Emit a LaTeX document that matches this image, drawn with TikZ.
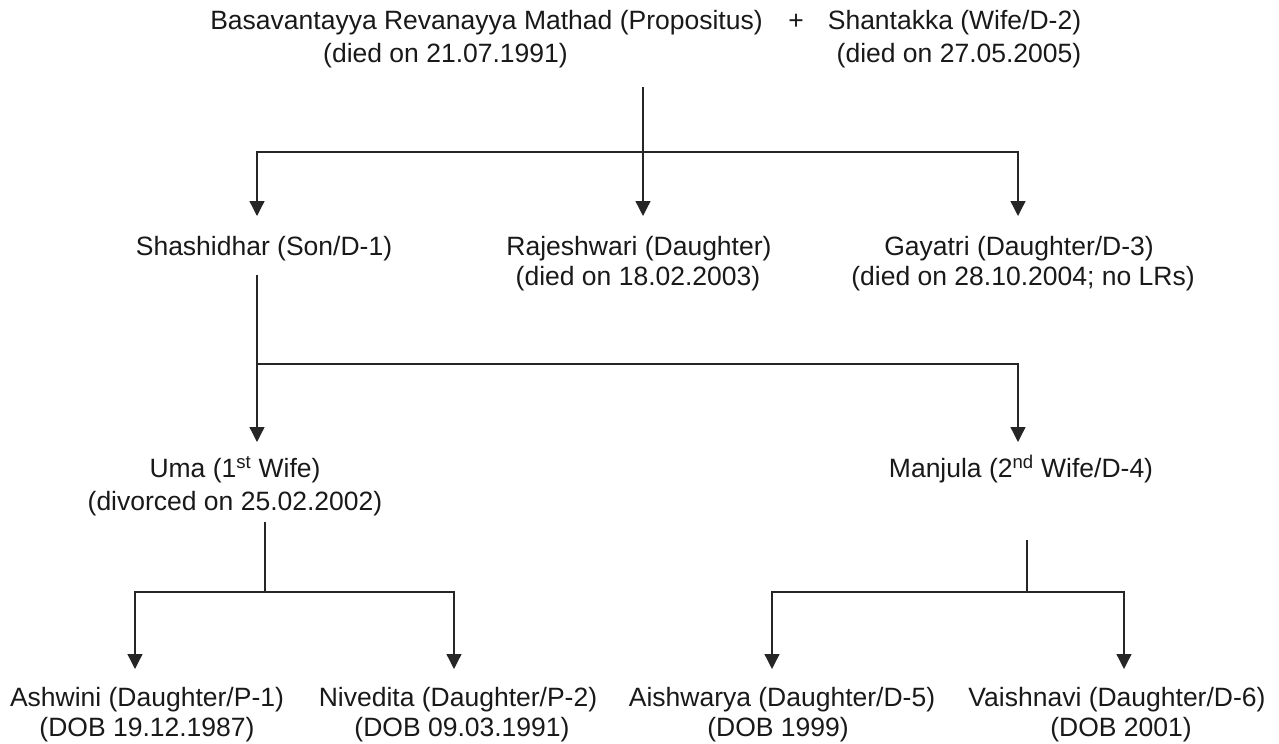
\documentclass[tikz,border=0pt]{standalone}
\usepackage{fontspec}
\setmainfont{Liberation Sans}
\usetikzlibrary{arrows.meta}
\begin{document}
\begin{tikzpicture}[x=1bp,y=-1bp,
  lbl/.style={inner sep=0pt, outer sep=0pt, anchor=base, font=\fontsize{26.5bp}{30bp}\selectfont, text=black!90},
  link/.style={draw=black!85, line width=1.3bp},
  arr/.style={link, -{Triangle[width=15bp,length=15bp]}}]
\useasboundingbox (0,0) rectangle (1279,744);

% top couple
\node[lbl] (prop)  at (486.5,30) {Basavantayya Revanayya Mathad (Propositus)};
\node[lbl] (plus)  at (796,30) {+};
\node[lbl] (wife)  at (954.5,30) {Shantakka (Wife/D-2)};
\node[lbl] (propd) at (445.5,63) {(died on 21.07.1991)};
\node[lbl] (wifed) at (959,63) {(died on 27.05.2005)};

% children
\node[lbl] (shash) at (264,255) {Shashidhar (Son/D-1)};
\node[lbl] (raj)   at (639,255) {Rajeshwari (Daughter)};
\node[lbl] (rajd)  at (638,285) {(died on 18.02.2003)};
\node[lbl] (gay)   at (1019,255) {Gayatri (Daughter/D-3)};
\node[lbl] (gayd)  at (1023,285) {(died on 28.10.2004; no LRs)};

% wives
\node[lbl] (uma)   at (235,477) {Uma (1\textsuperscript{st} Wife)};
\node[lbl] (umad)  at (235,510) {(divorced on 25.02.2002)};
\node[lbl] (manj)  at (1021,477) {Manjula (2\textsuperscript{nd} Wife/D-4)};

% grandchildren
\node[lbl] (ash)   at (147,706) {Ashwini (Daughter/P-1)};
\node[lbl] (ashd)  at (147,736) {(DOB 19.12.1987)};
\node[lbl] (niv)   at (458,706) {Nivedita (Daughter/P-2)};
\node[lbl] (nivd)  at (462,736) {(DOB 09.03.1991)};
\node[lbl] (aish)  at (782,706) {Aishwarya (Daughter/D-5)};
\node[lbl] (aishd) at (778,736) {(DOB 1999)};
\node[lbl] (vai)   at (1117,706) {Vaishnavi (Daughter/D-6)};
\node[lbl] (vaid)  at (1121,736) {(DOB 2001)};

% connector points
\coordinate (t0) at (643,87);
\coordinate (j1) at (643,152);
\coordinate (a1) at (257,216);
\coordinate (a2) at (643,216);
\coordinate (a3) at (1018,216);

\coordinate (s0) at (257,275);
\coordinate (j2) at (257,364);
\coordinate (a4) at (257,442);
\coordinate (a5) at (1018,442);

\coordinate (u0) at (265,522);
\coordinate (j3) at (265,592);
\coordinate (a6) at (135,669);
\coordinate (a7) at (454,669);

\coordinate (m0) at (1027,540);
\coordinate (j4) at (1027,592);
\coordinate (a8) at (772,669);
\coordinate (a9) at (1124,669);

% connectors
\draw[link] (t0) -- (j1);
\draw[arr] (j1) -| (a1);
\draw[arr] (j1) -- (a2);
\draw[arr] (j1) -| (a3);

\draw[arr] (s0) -- (a4);
\draw[arr] (j2) -| (a5);

\draw[link] (u0) -- (j3);
\draw[arr] (j3) -| (a6);
\draw[arr] (j3) -| (a7);

\draw[link] (m0) -- (j4);
\draw[arr] (j4) -| (a8);
\draw[arr] (j4) -| (a9);
\end{tikzpicture}
\end{document}
